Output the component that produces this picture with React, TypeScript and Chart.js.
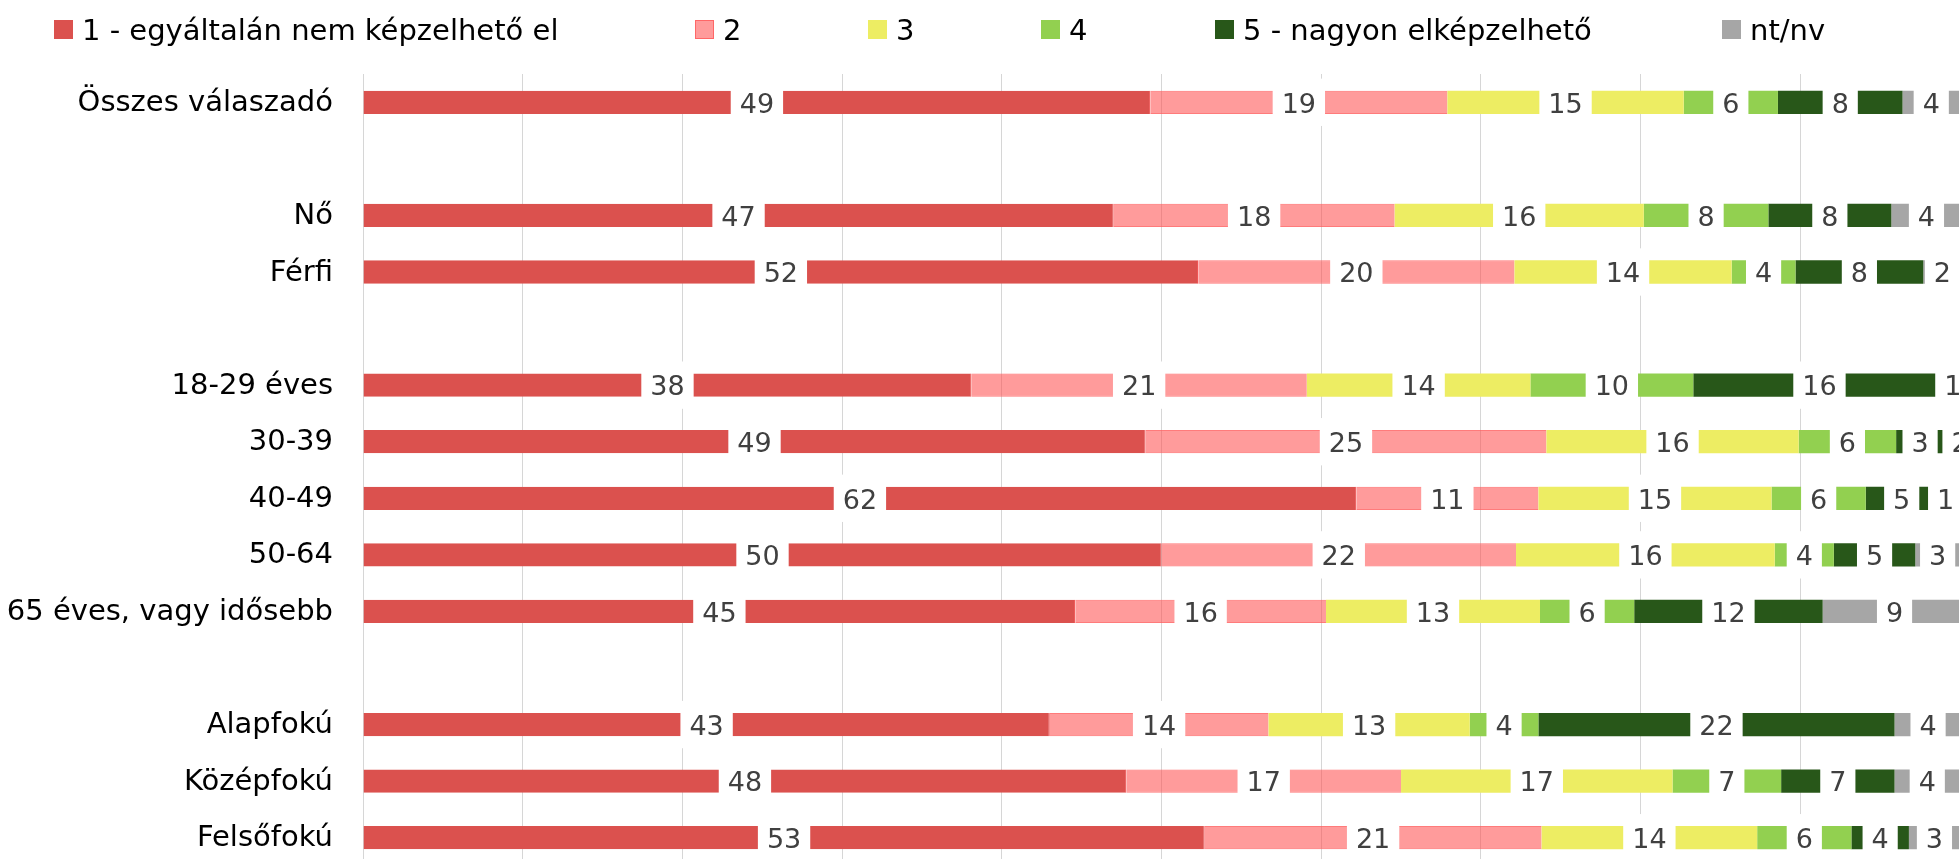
import React, { useEffect, useRef } from 'react';
import { Chart, registerables } from 'chart.js';

Chart.register(...registerables);

// ---------- data ----------
const categories = [
  'Összes válaszadó',
  '',
  'Nő',
  'Férfi',
  '',
  '18-29 éves',
  '30-39',
  '40-49',
  '50-64',
  '65 éves, vagy idősebb',
  '',
  'Alapfokú',
  'Középfokú',
  'Felsőfokú',
];

const seriesNames = [
  '1 - egyáltalán nem képzelhető el',
  '2',
  '3',
  '4',
  '5 - nagyon elképzelhető',
  'nt/nv',
];

const answer1 = [49.3, null, 47.0, 52.3, null, 38.1, 49.0, 62.2, 50.0, 44.6, null, 43.0, 47.8, 52.7];
const answer2 = [18.6, null, 17.6, 19.8, null, 21.0, 25.1, 11.4, 22.2, 15.7, null, 13.7, 17.2, 21.1];
const answer3 = [14.8, null, 15.6, 13.6, null, 14.0, 15.8, 14.6, 16.2, 13.4, null, 12.6, 17.0, 13.5];
const answer4 = [5.9, null, 7.8, 4.0, null, 10.2, 6.1, 5.9, 3.7, 5.9, null, 4.3, 6.8, 5.9];
const answer5 = [7.8, null, 7.7, 8.0, null, 15.8, 3.0, 4.5, 5.1, 11.8, null, 22.3, 7.1, 3.6];
const answerNA = [3.6, null, 4.4, 2.4, null, 0.9, 2.0, 1.0, 2.8, 9.0, null, 4.2, 4.1, 3.2];

const seriesValues = [answer1, answer2, answer3, answer4, answer5, answerNA];

// ---------- styles ----------
const FONT = '"DejaVu Sans", Verdana, sans-serif';
const fills = ['#DB514E', 'rgba(255, 80, 80, 0.57)', '#EDED63', '#92D050', '#285719', '#A6A6A6'];
const borders = ['#F02424', 'rgba(255, 90, 90, 0.8)', '#EDED63', '#92D050', '#3A5F2C', '#A6A6A6'];
const borderWidths = [
  { top: 0, right: 1, bottom: 0, left: 0 },
  { top: 1, right: 0, bottom: 1, left: 0 },
  0,
  0,
  0,
  0,
];
const legendBoxX = [54, 695, 868, 1041, 1215, 1722];

const TEXT_SIZE = 29;
const LABEL_SIZE = 27;
const LABEL_PAD_X = 9;
const LABEL_PAD_Y = 12;

const segmentLabels = {
  id: 'segmentLabels',
  afterDatasetsDraw(chart: any) {
    const ctx = chart.ctx as CanvasRenderingContext2D;
    ctx.save();
    ctx.font = `${LABEL_SIZE}px ${FONT}`;
    const items: { cx: number; y: number; h: number; text: string; w: number }[] = [];
    chart.data.datasets.forEach((ds: any, di: number) => {
      const meta = chart.getDatasetMeta(di);
      meta.data.forEach((el: any, i: number) => {
        const v = ds.data[i];
        if (v === null || v === undefined) return;
        const p = el.getProps(['x', 'y', 'base', 'height'], true);
        const text = String(Math.round(v));
        items.push({ cx: (p.x + p.base) / 2, y: p.y, h: p.height, text, w: ctx.measureText(text).width });
      });
    });
    ctx.fillStyle = '#ffffff';
    items.forEach((it) => {
      ctx.fillRect(it.cx - it.w / 2 - LABEL_PAD_X, it.y - it.h / 2 - LABEL_PAD_Y, it.w + 2 * LABEL_PAD_X, it.h + 2 * LABEL_PAD_Y);
    });
    ctx.fillStyle = '#404040';
    ctx.textAlign = 'center';
    ctx.textBaseline = 'alphabetic';
    items.forEach((it) => {
      ctx.fillText(it.text, it.cx, it.y + LABEL_SIZE * 0.38);
    });
    ctx.restore();
  },
};

const topLegend = {
  id: 'topLegend',
  afterDraw(chart: any) {
    const ctx = chart.ctx as CanvasRenderingContext2D;
    ctx.save();
    ctx.font = `${TEXT_SIZE}px ${FONT}`;
    ctx.textAlign = 'left';
    ctx.textBaseline = 'alphabetic';
    chart.data.datasets.forEach((ds: any, i: number) => {
      const x = legendBoxX[i];
      ctx.fillStyle = '#ffffff';
      ctx.fillRect(x, 20, 19, 19);
      ctx.fillStyle = ds.backgroundColor;
      ctx.fillRect(x, 20, 19, 19);
      if (i === 1) {
        ctx.strokeStyle = 'rgba(255, 90, 90, 0.8)';
        ctx.lineWidth = 1;
        ctx.strokeRect(x + 0.5, 20.5, 18, 18);
      }
      ctx.fillStyle = '#000000';
      ctx.fillText(ds.label, x + 28, 39.5);
    });
    ctx.restore();
  },
};

export default function App() {
  const ref = useRef<HTMLCanvasElement>(null);

  useEffect(() => {
    document.body.style.margin = '0';
    document.body.style.overflow = 'hidden';
    Chart.defaults.font.family = FONT;
    const canvas = ref.current!;
    const chart = new Chart(canvas, {
      type: 'bar',
      data: {
        labels: categories,
        datasets: seriesNames.map((name, i) => ({
          label: name,
          data: seriesValues[i],
          backgroundColor: fills[i],
          borderColor: borders[i],
          borderWidth: borderWidths[i] as any,
          borderSkipped: false,
          barPercentage: 0.412,
          categoryPercentage: 1,
        })),
      },
      options: {
        indexAxis: 'y',
        responsive: false,
        animation: false,
        layout: { padding: { top: 74, left: 0, right: 0, bottom: 0 } },
        plugins: {
          legend: { display: false },
          tooltip: { enabled: false },
        },
        scales: {
          x: {
            stacked: true,
            min: 0,
            max: 100,
            ticks: { display: false, stepSize: 10 },
            grid: { color: '#D6D6D6', lineWidth: 1, drawTicks: false },
            border: { display: false },
            afterFit: (s: any) => {
              s.height = 0;
              s.paddingLeft = 0;
              s.paddingRight = 0;
            },
          },
          y: {
            stacked: true,
            ticks: {
              color: '#000000',
              font: { size: TEXT_SIZE, family: FONT },
              padding: 30,
              labelOffset: 1,
              autoSkip: false,
            },
            grid: { display: false, drawTicks: false },
            border: { display: false },
            afterFit: (s: any) => {
              s.width = 363;
              s.paddingTop = 0;
              s.paddingBottom = 0;
            },
          },
        },
      } as any,
      plugins: [segmentLabels, topLegend],
    });
    return () => chart.destroy();
  }, []);

  return (
    <div style={{ position: 'relative', width: 1959, height: 859, overflow: 'hidden', background: '#ffffff' }}>
      <canvas ref={ref} width={1960} height={866} style={{ display: 'block', width: 1960, height: 866 }} />
    </div>
  );
}
